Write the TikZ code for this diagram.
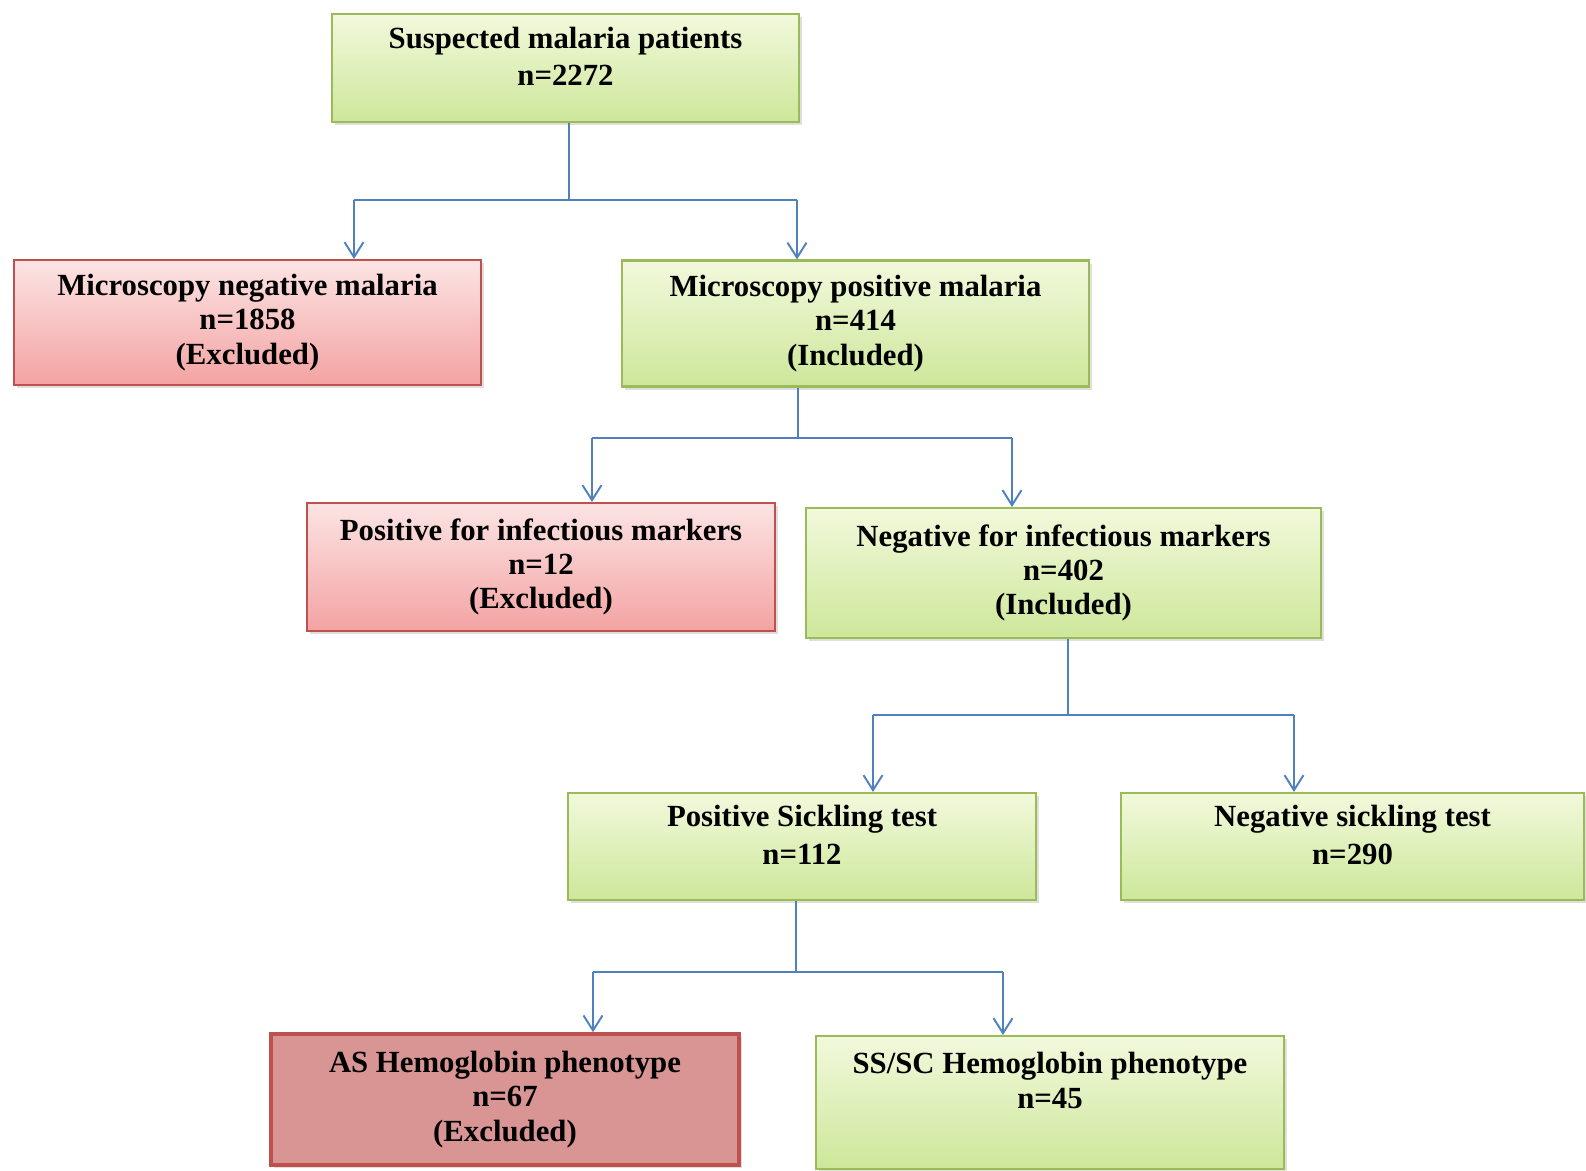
\documentclass[tikz,border=0pt]{standalone}
\usepackage{fontspec}
\setmainfont{Liberation Serif}
\usetikzlibrary{arrows.meta,shadows}
\definecolor{linkblue}{HTML}{4F81BD}
\definecolor{greenedge}{HTML}{9BBB59}
\definecolor{greentop}{HTML}{F2F9DC}
\definecolor{greenbot}{HTML}{CDE79A}
\definecolor{rededge}{HTML}{C0504D}
\definecolor{redtop}{HTML}{FCE4E4}
\definecolor{redbot}{HTML}{F3A3A2}
\definecolor{redsolid}{HTML}{D99594}
\tikzset{
  box/.style={rectangle, align=center, inner sep=2pt, line width=1.2pt,
    font=\fontsize{17.5}{19.5}\selectfont\bfseries,
    drop shadow={opacity=0.25, shadow xshift=0.06cm, shadow yshift=-0.06cm}},
  okbox/.style={box, draw=greenedge, top color=greentop, bottom color=greenbot},
  outbox/.style={box, draw=rededge, top color=redtop, bottom color=redbot},
  asbox/.style={box, draw=rededge, line width=2pt, fill=redsolid},
  link/.style={draw=linkblue, line width=1.1pt},
  arr/.style={link, -{Straight Barb[length=0.3cm,width=0.38cm]}}
}
\begin{document}
\begin{tikzpicture}
            \useasboundingbox (0,0) rectangle (31.72,-23.4);

            % Boxes of the flow
            \node [okbox, minimum width=9.34cm, minimum height=2.16cm] (susp) at (11.31,-1.36)
              {Suspected malaria patients\\[2pt] n=2272\\[-12pt] \strut};
            \node [outbox, minimum width=9.34cm, minimum height=2.5cm] (negmic) at (4.95,-6.45)
              {Microscopy negative malaria\\ n=1858\\ (Excluded)};
            \node [okbox, minimum width=9.34cm, minimum height=2.52cm] (posmic) at (17.11,-6.47)
              {Microscopy positive malaria\\ n=414\\ (Included)};
            \node [outbox, minimum width=9.36cm, minimum height=2.56cm] (posinf) at (10.82,-11.34)
              {Positive for infectious markers\\ n=12\\ (Excluded)};
            \node [okbox, minimum width=10.3cm, minimum height=2.6cm] (neginf) at (21.27,-11.46)
              {Negative for infectious markers\\ n=402\\ (Included)};
            \node [okbox, minimum width=9.36cm, minimum height=2.14cm] (possick) at (16.04,-16.93)
              {Positive Sickling test\\[2pt] n=112\\[-12pt] \strut};
            \node [okbox, minimum width=9.26cm, minimum height=2.14cm] (negsick) at (27.05,-16.93)
              {Negative sickling test\\[2pt] n=290\\[-12pt] \strut};
            \node [asbox, minimum width=9.36cm, minimum height=2.62cm] (ashb) at (10.1,-21.99)
              {AS Hemoglobin phenotype\\ n=67\\ (Excluded)};
            \node [okbox, minimum width=9.36cm, minimum height=2.66cm] (sshb) at (21.0,-22.05)
              {SS/SC Hemoglobin phenotype\\ n=45\\ \strut};

            % Junction points of the branches
            \coordinate (j1) at (11.38,-4.0);
            \coordinate (l1) at (7.08,-4.0);
            \coordinate (r1) at (15.94,-4.0);
            \coordinate (j2) at (15.96,-8.76);
            \coordinate (l2) at (11.84,-8.76);
            \coordinate (r2) at (20.24,-8.76);
            \coordinate (j3) at (21.36,-14.3);
            \coordinate (l3) at (17.46,-14.3);
            \coordinate (r3) at (25.88,-14.3);
            \coordinate (j4) at (15.92,-19.44);
            \coordinate (l4) at (11.86,-19.44);
            \coordinate (r4) at (20.06,-19.44);

            % Split after the suspected patients
            \draw [link] (j1 |- susp.south) -- (j1);
            \draw [link] (l1) -- (r1);
            \draw [arr] (l1) -- (l1 |- negmic.north);
            \draw [arr] (r1) -- (r1 |- posmic.north);

            % Split after microscopy
            \draw [link] (j2 |- posmic.south) -- (j2);
            \draw [link] (l2) -- (r2);
            \draw [arr] (l2) -- (l2 |- posinf.north);
            \draw [arr] (r2) -- (r2 |- neginf.north);

            % Split after infectious markers
            \draw [link] (j3 |- neginf.south) -- (j3);
            \draw [link] (l3) -- (r3);
            \draw [arr] (l3) -- (l3 |- possick.north);
            \draw [arr] (r3) -- (r3 |- negsick.north);

            % Split after sickling test
            \draw [link] (j4 |- possick.south) -- (j4);
            \draw [link] (l4) -- (r4);
            \draw [arr] (l4) -- (l4 |- ashb.north);
            \draw [arr] (r4) -- (r4 |- sshb.north);
        \end{tikzpicture}
\end{document}
